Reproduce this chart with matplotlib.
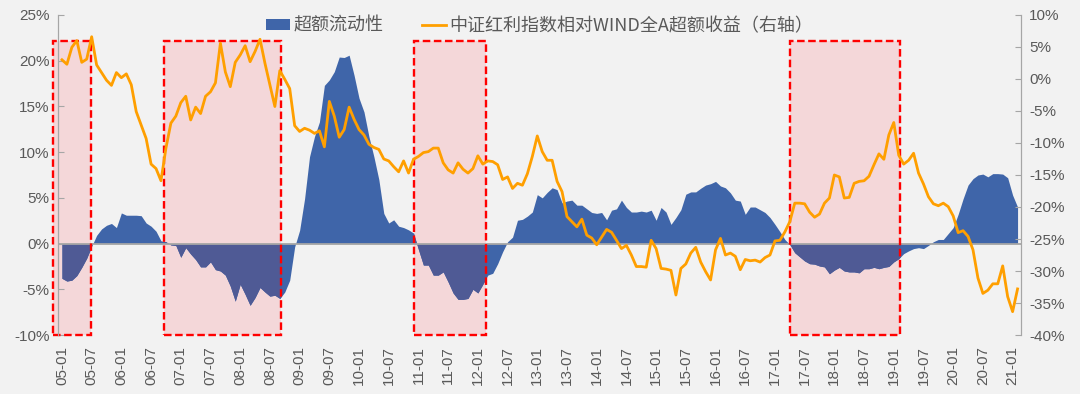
import numpy as np
import pandas as pd
import matplotlib
matplotlib.use("Agg")
import matplotlib.pyplot as plt
from matplotlib.patches import Rectangle

# monthly data, 2005-01 .. 2021-02
liquidity = [
    -3.8, -4.1, -4.0, -3.5, -2.6, -1.6, -0.3, 0.9, 1.6, 2.0,
    2.2, 1.75, 3.35, 3.1, 3.1, 3.1, 3.05, 2.25, 1.9, 1.35,
    0.3, 0.2, -0.15, -0.2, -1.5, -0.45, -1.15, -1.75, -2.55, -2.55,
    -2.0, -2.85, -3.0, -3.45, -4.65, -6.3, -4.45, -5.55, -6.75, -5.9,
    -4.8, -5.3, -5.75, -5.65, -6.0, -5.3, -4.0, -0.35, 1.45, 4.9,
    9.5, 11.7, 13.3, 17.3, 17.9, 18.8, 20.4, 20.35, 20.6, 18.4,
    15.9, 14.4, 11.7, 9.5, 7.0, 3.3, 2.25, 2.6, 1.9, 1.75,
    1.5, 1.15, -0.65, -2.35, -2.35, -3.45, -3.45, -3.1, -4.2, -5.4,
    -6.1, -6.1, -6.0, -5.0, -5.4, -4.45, -3.45, -3.25, -2.2, -0.9,
    0.2, 0.7, 2.55, 2.65, 3.0, 3.45, 5.35, 5.0, 5.6, 6.1,
    5.9, 4.45, 4.65, 4.75, 4.2, 4.2, 3.8, 3.4, 3.3, 3.4,
    2.6, 3.65, 3.8, 4.75, 3.95, 3.45, 3.45, 3.55, 3.45, 3.65,
    2.55, 3.95, 3.45, 2.1, 2.85, 3.7, 5.4, 5.65, 5.65, 6.05,
    6.4, 6.55, 6.8, 6.3, 6.1, 5.55, 4.75, 4.65, 3.2, 4.0,
    4.0, 3.7, 3.4, 2.85, 2.1, 1.3, 0.45, -0.1, -1.0, -1.45,
    -1.9, -2.2, -2.25, -2.45, -2.55, -3.3, -2.9, -2.6, -3.0, -3.1,
    -3.1, -3.2, -2.75, -2.75, -2.6, -2.75, -2.6, -2.5, -2.0, -1.65,
    -1.1, -0.8, -0.55, -0.45, -0.55, -0.2, 0.2, 0.45, 0.45, 1.1,
    1.75, 3.2, 4.9, 6.4, 7.1, 7.5, 7.6, 7.3, 7.65, 7.65,
    7.6, 7.2, 5.3, 4.0,
]

excess_ret = [
    3.0, 2.3, 4.95, 6.0, 2.6, 3.1, 6.6, 2.2, 1.0, -0.2,
    -1.0, 1.0, 0.2, 0.8, -0.9, -5.1, -7.2, -9.3, -13.3, -14.0,
    -15.9, -10.8, -6.9, -5.8, -3.7, -2.7, -6.4, -4.4, -5.4, -2.7,
    -2.0, -0.6, 5.6, 1.1, -1.2, 2.6, 3.75, 5.2, 2.7, 4.3,
    6.2, 2.45, -0.9, -4.3, 1.3, -0.05, -1.5, -7.3, -8.2, -7.7,
    -8.0, -8.5, -8.1, -10.6, -3.5, -5.8, -9.1, -7.9, -4.4, -6.3,
    -7.9, -8.75, -10.2, -10.7, -11.0, -12.5, -12.8, -13.7, -14.5, -12.8,
    -14.7, -12.55, -12.1, -11.5, -11.35, -10.8, -10.8, -13.1, -14.2, -14.7,
    -13.1, -14.1, -14.7, -14.0, -12.0, -13.3, -12.8, -12.9, -13.4, -15.7,
    -15.3, -17.1, -16.3, -16.6, -14.8, -12.1, -8.9, -11.35, -12.7, -12.7,
    -16.0, -17.6, -21.5, -22.3, -23.1, -21.9, -24.4, -24.85, -25.9, -24.7,
    -23.5, -23.95, -25.2, -26.5, -26.0, -27.5, -29.3, -29.3, -29.4, -25.2,
    -26.5, -29.6, -29.7, -29.9, -33.75, -29.6, -28.9, -27.2, -26.3, -28.6,
    -30.1, -31.4, -26.7, -24.9, -27.5, -27.2, -27.7, -29.8, -28.2, -28.4,
    -28.3, -28.6, -27.9, -27.5, -25.3, -25.2, -23.9, -22.3, -19.4, -19.4,
    -19.5, -20.8, -21.6, -21.1, -19.4, -18.6, -15.0, -15.3, -18.6, -18.5,
    -16.3, -16.0, -15.9, -15.2, -13.4, -11.7, -12.55, -8.75, -6.8, -11.9,
    -13.3, -12.7, -11.6, -14.7, -16.4, -18.4, -19.5, -19.8, -19.4, -19.95,
    -21.4, -24.0, -23.7, -24.6, -26.7, -31.1, -33.5, -33.0, -32.0, -32.0,
    -29.2, -34.0, -36.35, -32.8,
]

dates = pd.date_range("2005-01-01", periods=len(liquidity), freq="MS")
tick_labels = [d.strftime("%y-%m") for d in dates[::6]]

# highlighted periods (month index, start/end)
periods = [(-1.8, 5.9), (20.7, 44.2), (71.2, 85.6), (147.1, 169.3)]

blue = "#3F65A9"
blue_in_box = "#4F5A95"
orange = "#FF9F00"
grey = "#595959"
bg = "#F2F2F2"

plt.rcParams["font.family"] = ["Liberation Sans", "Noto Sans CJK SC", "DejaVu Sans"]

fig = plt.figure(figsize=(10.8, 3.94), dpi=100, facecolor=bg)
ax = fig.add_axes([0.0537, 0.1497, 0.8917, 0.8123])
ax.set_facecolor(bg)
x = np.arange(len(liquidity))

ax.fill_between(x, 0, liquidity, color=blue, linewidth=0, zorder=2, label="超额流动性")

for a, b in periods:
    face = Rectangle((a, -10), b - a, 32.15, facecolor="#F4D7D9", edgecolor="none",
                     zorder=1, clip_on=False)
    ax.add_patch(face)
    tinted = ax.fill_between(x, 0, liquidity, color=blue_in_box, linewidth=0, zorder=2.2)
    tinted.set_clip_path(face)
    ax.add_patch(Rectangle((a, -10), b - a, 32.15, facecolor="none",
                           edgecolor="#FF0000", linewidth=1.7, linestyle=(0, (3.2, 1.5)),
                           zorder=4, clip_on=False))

ax.axhline(0, color="#A6A6A6", linewidth=1.3, zorder=2.5)

ax.set_xlim(-0.8, 193.7)
ax.set_ylim(-10, 25)
ax.set_yticks(np.arange(-10, 26, 5))
ax.set_yticklabels([f"{v}%" for v in range(-10, 26, 5)])
ax.set_xticks(x[::6])
ax.set_xticklabels(tick_labels, rotation=90)

ax2 = ax.twinx()
ax2.plot(x, excess_ret, color=orange, linewidth=2.0, zorder=5,
         label="中证红利指数相对WIND全A超额收益（右轴）")
ax2.set_ylim(-40, 10)
ax2.set_yticks(np.arange(-40, 11, 5))
ax2.set_yticklabels([f"{v}%" for v in range(-40, 11, 5)])

for a_ in (ax, ax2):
    for s in ("top", "bottom"):
        a_.spines[s].set_visible(False)
    a_.spines["left"].set_color("#A6A6A6")
    a_.spines["right"].set_color("#A6A6A6")
    a_.tick_params(axis="y", direction="in", length=4, color="#A6A6A6",
                   labelsize=11, labelcolor=grey, pad=6)
ax.tick_params(axis="x", length=0, labelsize=11, labelcolor=grey, pad=8)

h1, l1 = ax.get_legend_handles_labels()
h2, l2 = ax2.get_legend_handles_labels()
leg = ax2.legend(h1 + h2, l1 + l2, loc="upper center", bbox_to_anchor=(0.5, 1.045),
                 ncol=2, frameon=False, handlelength=1.35, handleheight=0.5,
                 handletextpad=0.2, columnspacing=2.1,
                 prop={"family": ["Noto Sans CJK SC", "DejaVu Sans"], "size": 13})
for t in leg.get_texts():
    t.set_color(grey)

fig.savefig("out.png", dpi=100, facecolor=bg)
